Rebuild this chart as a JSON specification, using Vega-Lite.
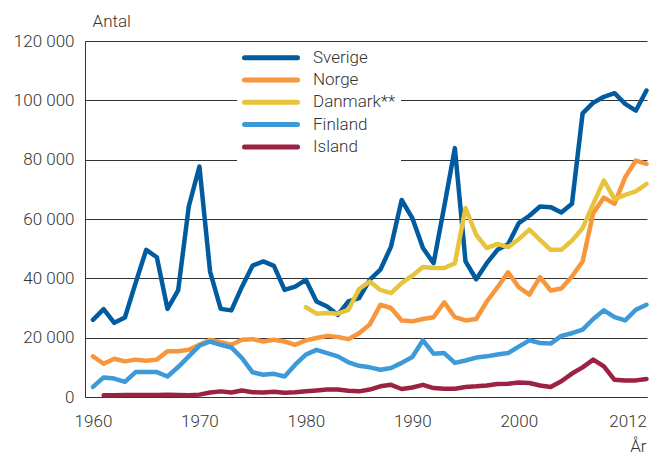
{
  "$schema": "https://vega.github.io/schema/vega-lite/v6.json",
  "width": 562,
  "height": 356,
  "autosize": {"type": "none"},
  "padding": {"left": 85, "top": 41, "right": 22, "bottom": 58},
  "background": "white",
  "config": {
    "view": {"stroke": null},
    "font": "Roboto",
    "axis": {
      "labelFont": "Roboto",
      "labelFontSize": 17,
      "labelFontWeight": 300,
      "labelColor": "#333333",
      "titleFont": "Roboto",
      "titleFontSize": 17,
      "titleFontWeight": 300,
      "titleColor": "#333333",
      "ticks": false,
      "domainColor": "#333333",
      "domainWidth": 1,
      "gridColor": "#333333",
      "gridWidth": 1,
      "gridOpacity": 1
    }
  },
  "data": {
    "values": [
      {"year": 1960, "country": "Sverige", "value": 26000},
      {"year": 1961, "country": "Sverige", "value": 29600},
      {"year": 1962, "country": "Sverige", "value": 25000},
      {"year": 1963, "country": "Sverige", "value": 26800},
      {"year": 1964, "country": "Sverige", "value": 38400},
      {"year": 1965, "country": "Sverige", "value": 49600},
      {"year": 1966, "country": "Sverige", "value": 47100},
      {"year": 1967, "country": "Sverige", "value": 29700},
      {"year": 1968, "country": "Sverige", "value": 35900},
      {"year": 1969, "country": "Sverige", "value": 64200},
      {"year": 1970, "country": "Sverige", "value": 77700},
      {"year": 1971, "country": "Sverige", "value": 42300},
      {"year": 1972, "country": "Sverige", "value": 29700},
      {"year": 1973, "country": "Sverige", "value": 29200},
      {"year": 1974, "country": "Sverige", "value": 37200},
      {"year": 1975, "country": "Sverige", "value": 44300},
      {"year": 1976, "country": "Sverige", "value": 45700},
      {"year": 1977, "country": "Sverige", "value": 44200},
      {"year": 1978, "country": "Sverige", "value": 36100},
      {"year": 1979, "country": "Sverige", "value": 37200},
      {"year": 1980, "country": "Sverige", "value": 39500},
      {"year": 1981, "country": "Sverige", "value": 32200},
      {"year": 1982, "country": "Sverige", "value": 30500},
      {"year": 1983, "country": "Sverige", "value": 27700},
      {"year": 1984, "country": "Sverige", "value": 32200},
      {"year": 1985, "country": "Sverige", "value": 33300},
      {"year": 1986, "country": "Sverige", "value": 39500},
      {"year": 1987, "country": "Sverige", "value": 42900},
      {"year": 1988, "country": "Sverige", "value": 50700},
      {"year": 1989, "country": "Sverige", "value": 66400},
      {"year": 1990, "country": "Sverige", "value": 60300},
      {"year": 1991, "country": "Sverige", "value": 50200},
      {"year": 1992, "country": "Sverige", "value": 45100},
      {"year": 1993, "country": "Sverige", "value": 64200},
      {"year": 1994, "country": "Sverige", "value": 83900},
      {"year": 1995, "country": "Sverige", "value": 45700},
      {"year": 1996, "country": "Sverige", "value": 39700},
      {"year": 1997, "country": "Sverige", "value": 45100},
      {"year": 1998, "country": "Sverige", "value": 49600},
      {"year": 1999, "country": "Sverige", "value": 51500},
      {"year": 2000, "country": "Sverige", "value": 58600},
      {"year": 2001, "country": "Sverige", "value": 61100},
      {"year": 2002, "country": "Sverige", "value": 64200},
      {"year": 2003, "country": "Sverige", "value": 64000},
      {"year": 2004, "country": "Sverige", "value": 62200},
      {"year": 2005, "country": "Sverige", "value": 65100},
      {"year": 2006, "country": "Sverige", "value": 95600},
      {"year": 2007, "country": "Sverige", "value": 99200},
      {"year": 2008, "country": "Sverige", "value": 101200},
      {"year": 2009, "country": "Sverige", "value": 102400},
      {"year": 2010, "country": "Sverige", "value": 98800},
      {"year": 2011, "country": "Sverige", "value": 96500},
      {"year": 2012, "country": "Sverige", "value": 103300},

      {"year": 1960, "country": "Norge", "value": 13700},
      {"year": 1961, "country": "Norge", "value": 11200},
      {"year": 1962, "country": "Norge", "value": 12900},
      {"year": 1963, "country": "Norge", "value": 12000},
      {"year": 1964, "country": "Norge", "value": 12600},
      {"year": 1965, "country": "Norge", "value": 12200},
      {"year": 1966, "country": "Norge", "value": 12600},
      {"year": 1967, "country": "Norge", "value": 15400},
      {"year": 1968, "country": "Norge", "value": 15400},
      {"year": 1969, "country": "Norge", "value": 15900},
      {"year": 1970, "country": "Norge", "value": 17600},
      {"year": 1971, "country": "Norge", "value": 19300},
      {"year": 1972, "country": "Norge", "value": 18500},
      {"year": 1973, "country": "Norge", "value": 17600},
      {"year": 1974, "country": "Norge", "value": 19300},
      {"year": 1975, "country": "Norge", "value": 19500},
      {"year": 1976, "country": "Norge", "value": 18700},
      {"year": 1977, "country": "Norge", "value": 19300},
      {"year": 1978, "country": "Norge", "value": 18700},
      {"year": 1979, "country": "Norge", "value": 17600},
      {"year": 1980, "country": "Norge", "value": 19100},
      {"year": 1981, "country": "Norge", "value": 19900},
      {"year": 1982, "country": "Norge", "value": 20600},
      {"year": 1983, "country": "Norge", "value": 20200},
      {"year": 1984, "country": "Norge", "value": 19500},
      {"year": 1985, "country": "Norge", "value": 21500},
      {"year": 1986, "country": "Norge", "value": 24400},
      {"year": 1987, "country": "Norge", "value": 31100},
      {"year": 1988, "country": "Norge", "value": 30000},
      {"year": 1989, "country": "Norge", "value": 25800},
      {"year": 1990, "country": "Norge", "value": 25500},
      {"year": 1991, "country": "Norge", "value": 26300},
      {"year": 1992, "country": "Norge", "value": 26900},
      {"year": 1993, "country": "Norge", "value": 31900},
      {"year": 1994, "country": "Norge", "value": 26900},
      {"year": 1995, "country": "Norge", "value": 25800},
      {"year": 1996, "country": "Norge", "value": 26300},
      {"year": 1997, "country": "Norge", "value": 32200},
      {"year": 1998, "country": "Norge", "value": 37000},
      {"year": 1999, "country": "Norge", "value": 42000},
      {"year": 2000, "country": "Norge", "value": 37000},
      {"year": 2001, "country": "Norge", "value": 34500},
      {"year": 2002, "country": "Norge", "value": 40400},
      {"year": 2003, "country": "Norge", "value": 35900},
      {"year": 2004, "country": "Norge", "value": 36600},
      {"year": 2005, "country": "Norge", "value": 40600},
      {"year": 2006, "country": "Norge", "value": 45700},
      {"year": 2007, "country": "Norge", "value": 62000},
      {"year": 2008, "country": "Norge", "value": 67200},
      {"year": 2009, "country": "Norge", "value": 65100},
      {"year": 2010, "country": "Norge", "value": 74100},
      {"year": 2011, "country": "Norge", "value": 79700},
      {"year": 2012, "country": "Norge", "value": 78600},

      {"year": 1980, "country": "Danmark**", "value": 30300},
      {"year": 1981, "country": "Danmark**", "value": 28100},
      {"year": 1982, "country": "Danmark**", "value": 28300},
      {"year": 1983, "country": "Danmark**", "value": 28100},
      {"year": 1984, "country": "Danmark**", "value": 29400},
      {"year": 1985, "country": "Danmark**", "value": 36400},
      {"year": 1986, "country": "Danmark**", "value": 38900},
      {"year": 1987, "country": "Danmark**", "value": 36100},
      {"year": 1988, "country": "Danmark**", "value": 35000},
      {"year": 1989, "country": "Danmark**", "value": 38400},
      {"year": 1990, "country": "Danmark**", "value": 40900},
      {"year": 1991, "country": "Danmark**", "value": 43800},
      {"year": 1992, "country": "Danmark**", "value": 43500},
      {"year": 1993, "country": "Danmark**", "value": 43500},
      {"year": 1994, "country": "Danmark**", "value": 45100},
      {"year": 1995, "country": "Danmark**", "value": 63700},
      {"year": 1996, "country": "Danmark**", "value": 54700},
      {"year": 1997, "country": "Danmark**", "value": 50200},
      {"year": 1998, "country": "Danmark**", "value": 51600},
      {"year": 1999, "country": "Danmark**", "value": 50500},
      {"year": 2000, "country": "Danmark**", "value": 53200},
      {"year": 2001, "country": "Danmark**", "value": 56400},
      {"year": 2002, "country": "Danmark**", "value": 53000},
      {"year": 2003, "country": "Danmark**", "value": 49600},
      {"year": 2004, "country": "Danmark**", "value": 49600},
      {"year": 2005, "country": "Danmark**", "value": 52700},
      {"year": 2006, "country": "Danmark**", "value": 56900},
      {"year": 2007, "country": "Danmark**", "value": 65100},
      {"year": 2008, "country": "Danmark**", "value": 73000},
      {"year": 2009, "country": "Danmark**", "value": 66700},
      {"year": 2010, "country": "Danmark**", "value": 68100},
      {"year": 2011, "country": "Danmark**", "value": 69300},
      {"year": 2012, "country": "Danmark**", "value": 71800},

      {"year": 1960, "country": "Finland", "value": 3400},
      {"year": 1961, "country": "Finland", "value": 6600},
      {"year": 1962, "country": "Finland", "value": 6200},
      {"year": 1963, "country": "Finland", "value": 5100},
      {"year": 1964, "country": "Finland", "value": 8400},
      {"year": 1965, "country": "Finland", "value": 8400},
      {"year": 1966, "country": "Finland", "value": 8400},
      {"year": 1967, "country": "Finland", "value": 6900},
      {"year": 1968, "country": "Finland", "value": 10100},
      {"year": 1969, "country": "Finland", "value": 13700},
      {"year": 1970, "country": "Finland", "value": 17300},
      {"year": 1971, "country": "Finland", "value": 18700},
      {"year": 1972, "country": "Finland", "value": 17600},
      {"year": 1973, "country": "Finland", "value": 16700},
      {"year": 1974, "country": "Finland", "value": 13100},
      {"year": 1975, "country": "Finland", "value": 8300},
      {"year": 1976, "country": "Finland", "value": 7500},
      {"year": 1977, "country": "Finland", "value": 7800},
      {"year": 1978, "country": "Finland", "value": 6900},
      {"year": 1979, "country": "Finland", "value": 10900},
      {"year": 1980, "country": "Finland", "value": 14300},
      {"year": 1981, "country": "Finland", "value": 15900},
      {"year": 1982, "country": "Finland", "value": 14800},
      {"year": 1983, "country": "Finland", "value": 13700},
      {"year": 1984, "country": "Finland", "value": 11700},
      {"year": 1985, "country": "Finland", "value": 10500},
      {"year": 1986, "country": "Finland", "value": 10000},
      {"year": 1987, "country": "Finland", "value": 9200},
      {"year": 1988, "country": "Finland", "value": 9800},
      {"year": 1989, "country": "Finland", "value": 11500},
      {"year": 1990, "country": "Finland", "value": 13500},
      {"year": 1991, "country": "Finland", "value": 19100},
      {"year": 1992, "country": "Finland", "value": 14600},
      {"year": 1993, "country": "Finland", "value": 14800},
      {"year": 1994, "country": "Finland", "value": 11500},
      {"year": 1995, "country": "Finland", "value": 12300},
      {"year": 1996, "country": "Finland", "value": 13300},
      {"year": 1997, "country": "Finland", "value": 13700},
      {"year": 1998, "country": "Finland", "value": 14300},
      {"year": 1999, "country": "Finland", "value": 14800},
      {"year": 2000, "country": "Finland", "value": 17000},
      {"year": 2001, "country": "Finland", "value": 19100},
      {"year": 2002, "country": "Finland", "value": 18200},
      {"year": 2003, "country": "Finland", "value": 18000},
      {"year": 2004, "country": "Finland", "value": 20600},
      {"year": 2005, "country": "Finland", "value": 21500},
      {"year": 2006, "country": "Finland", "value": 22700},
      {"year": 2007, "country": "Finland", "value": 26300},
      {"year": 2008, "country": "Finland", "value": 29200},
      {"year": 2009, "country": "Finland", "value": 26900},
      {"year": 2010, "country": "Finland", "value": 25800},
      {"year": 2011, "country": "Finland", "value": 29400},
      {"year": 2012, "country": "Finland", "value": 31100},

      {"year": 1961, "country": "Island", "value": 600},
      {"year": 1962, "country": "Island", "value": 600},
      {"year": 1963, "country": "Island", "value": 700},
      {"year": 1964, "country": "Island", "value": 700},
      {"year": 1965, "country": "Island", "value": 700},
      {"year": 1966, "country": "Island", "value": 700},
      {"year": 1967, "country": "Island", "value": 800},
      {"year": 1968, "country": "Island", "value": 700},
      {"year": 1969, "country": "Island", "value": 600},
      {"year": 1970, "country": "Island", "value": 800},
      {"year": 1971, "country": "Island", "value": 1500},
      {"year": 1972, "country": "Island", "value": 1900},
      {"year": 1973, "country": "Island", "value": 1500},
      {"year": 1974, "country": "Island", "value": 2200},
      {"year": 1975, "country": "Island", "value": 1600},
      {"year": 1976, "country": "Island", "value": 1500},
      {"year": 1977, "country": "Island", "value": 1800},
      {"year": 1978, "country": "Island", "value": 1400},
      {"year": 1979, "country": "Island", "value": 1600},
      {"year": 1980, "country": "Island", "value": 1900},
      {"year": 1981, "country": "Island", "value": 2200},
      {"year": 1982, "country": "Island", "value": 2500},
      {"year": 1983, "country": "Island", "value": 2500},
      {"year": 1984, "country": "Island", "value": 2100},
      {"year": 1985, "country": "Island", "value": 1900},
      {"year": 1986, "country": "Island", "value": 2500},
      {"year": 1987, "country": "Island", "value": 3600},
      {"year": 1988, "country": "Island", "value": 4100},
      {"year": 1989, "country": "Island", "value": 2700},
      {"year": 1990, "country": "Island", "value": 3200},
      {"year": 1991, "country": "Island", "value": 4100},
      {"year": 1992, "country": "Island", "value": 3000},
      {"year": 1993, "country": "Island", "value": 2800},
      {"year": 1994, "country": "Island", "value": 2800},
      {"year": 1995, "country": "Island", "value": 3400},
      {"year": 1996, "country": "Island", "value": 3600},
      {"year": 1997, "country": "Island", "value": 3900},
      {"year": 1998, "country": "Island", "value": 4400},
      {"year": 1999, "country": "Island", "value": 4500},
      {"year": 2000, "country": "Island", "value": 4900},
      {"year": 2001, "country": "Island", "value": 4700},
      {"year": 2002, "country": "Island", "value": 3900},
      {"year": 2003, "country": "Island", "value": 3400},
      {"year": 2004, "country": "Island", "value": 5300},
      {"year": 2005, "country": "Island", "value": 7900},
      {"year": 2006, "country": "Island", "value": 10000},
      {"year": 2007, "country": "Island", "value": 12600},
      {"year": 2008, "country": "Island", "value": 10300},
      {"year": 2009, "country": "Island", "value": 5800},
      {"year": 2010, "country": "Island", "value": 5600},
      {"year": 2011, "country": "Island", "value": 5600},
      {"year": 2012, "country": "Island", "value": 6100}
    ]
  },
  "mark": {"type": "line", "strokeWidth": 4.5, "strokeJoin": "round", "strokeCap": "round"},
  "encoding": {
    "x": {
      "field": "year",
      "type": "quantitative",
      "scale": {"domain": [1959.25, 2012.05], "nice": false, "zero": false},
      "axis": {
        "values": [1960, 1970, 1980, 1990, 2000, 2012],
        "format": "d",
        "grid": false,
        "labelPadding": 16,
        "title": "År",
        "titleAngle": 0,
        "titleAlign": "right",
        "titleBaseline": "alphabetic",
        "titleX": 561,
        "titleY": 54
      }
    },
    "y": {
      "field": "value",
      "type": "quantitative",
      "scale": {"domain": [0, 120000], "nice": false},
      "axis": {
        "values": [0, 20000, 40000, 60000, 80000, 100000, 120000],
        "labelExpr": "replace(format(datum.value, ','), ',', ' ')",
        "grid": true,
        "labelPadding": 11,
        "title": "Antal",
        "titleAngle": 0,
        "titleAlign": "left",
        "titleBaseline": "alphabetic",
        "titleX": 7,
        "titleY": -15
      }
    },
    "color": {
      "field": "country",
      "type": "nominal",
      "scale": {
        "domain": ["Sverige", "Norge", "Danmark**", "Finland", "Island"],
        "range": ["#005b9f", "#f7963a", "#e8c33c", "#3d9ad8", "#9c2243"]
      },
      "legend": {
        "orient": "none",
        "legendX": 152,
        "legendY": 3.2,
        "padding": 5,
        "fillColor": "white",
        "strokeColor": null,
        "title": null,
        "labelFont": "Roboto",
        "labelFontSize": 17,
        "labelFontWeight": 300,
        "labelColor": "#333333",
        "symbolType": "M-1.2,0H9.4",
        "symbolSize": 100,
        "symbolStrokeWidth": 5,
        "rowPadding": 1.3,
        "labelOffset": 54,
        "symbolOffset": 0,
        "encode": {"symbols": {"update": {"strokeCap": {"value": "round"}}}}
      }
    }
  }
}
